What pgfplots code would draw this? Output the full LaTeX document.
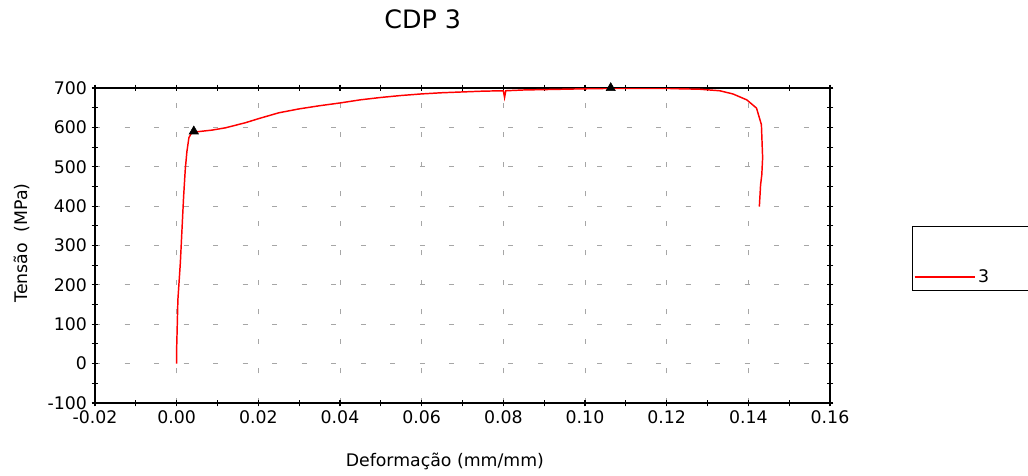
\documentclass[border=0pt]{standalone}
\usepackage{fontspec}
\setmainfont{DejaVu Sans}
\usepackage{pgfplots}
\pgfplotsset{compat=1.18}
\begin{document}
\begin{tikzpicture}
\begin{axis}[
    scale only axis,
    width=551.25pt, height=236.25pt,
    xmin=-0.02, xmax=0.16, ymin=-100, ymax=700,
    xtick distance=0.02, ytick distance=100,
    minor x tick num=1, minor y tick num=1,
    tick align=center,
    major tick length=5pt, minor tick length=5pt,
    every tick/.style={black, line width=0.8pt},
    axis line style={line width=1pt},
    grid=major,
    major grid style={gray!70, line width=0.7pt, dash pattern=on 3.75pt off 18.4pt},
    font=\fontsize{13}{15}\selectfont,
    /pgf/number format/assume math mode=true,
    xticklabel style={/pgf/number format/.cd, fixed, fixed zerofill, precision=2},
    yticklabel style={/pgf/number format/.cd, fixed, precision=0},
    scaled x ticks=false,
    title={CDP 3},
    title style={at={(axis description cs:0.446,1.193)}, anchor=center,
        font=\fontsize{19}{22}\selectfont},
    xlabel={Deformação (mm/mm)},
    ylabel={Tensão\ \ (MPa)},
    xlabel style={at={(axis description cs:0.476,-0.187)}, anchor=center},
    ylabel style={at={(axis description cs:-0.0993,0.508)}, anchor=center},
    legend style={at={(axis description cs:1.1116,0.562)}, anchor=north west,
        draw=black, line width=0.8pt, inner xsep=1pt, inner ysep=3pt,
        row sep=12pt, font=\fontsize{13}{15}\selectfont, cells={anchor=west}},
    legend image code/.code={\draw[#1] (0pt,0pt) -- (45pt,0pt);},
]
\addlegendimage{empty legend}
\addlegendentry{\phantom{3}}
\addplot[red, line width=1.1pt] coordinates {
(0,0) (0.0000,40) (0.0001,79) (0.0003,162) (0.0009,256) (0.0013,340)
(0.0017,424) (0.0021,492) (0.0025,538) (0.0030,574) (0.0036,585)
(0.0042,588) (0.0060,590) (0.0086,593) (0.0120,599) (0.0169,612)
(0.0200,622) (0.0250,637) (0.0300,647) (0.0350,655) (0.0400,662)
(0.0450,670) (0.0500,676) (0.0550,681) (0.0600,685) (0.0650,688)
(0.0700,690) (0.0750,692) (0.0800,693) (0.0803,676) (0.0806,693)
(0.0850,695) (0.0900,696) (0.0950,697) (0.1000,698) (0.1063,699)
(0.1100,699) (0.1150,699) (0.1200,699) (0.1232,698) (0.1280,697)
(0.1330,693) (0.1362,685) (0.1396,670) (0.1420,649) (0.1432,607)
(0.1435,523) (0.1433,480) (0.1430,454) (0.1427,399)
};
\addlegendentry{\makebox[80pt][l]{3}}
\addplot[only marks, mark=triangle*, mark size=4pt, black, forget plot]
    coordinates {(0.0042,590) (0.1063,700)};
\end{axis}
\pgfresetboundingbox
\path (-71.25pt,-54pt) rectangle (699.75pt,302.25pt);
\end{tikzpicture}
\end{document}
